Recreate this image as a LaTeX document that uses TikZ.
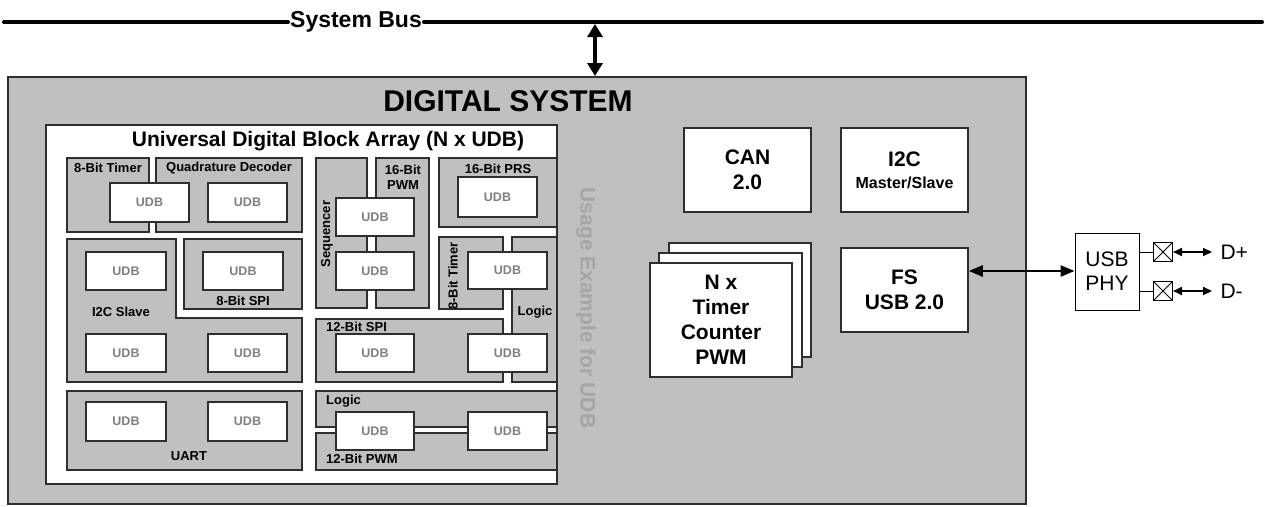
\documentclass[tikz,border=0pt]{standalone}
\usepackage{fontspec}
\setmainfont{Liberation Sans}
\usepackage{tikz}
\usetikzlibrary{arrows.meta, positioning}
\definecolor{sysgray}{HTML}{C0C0C0}
\definecolor{edge}{HTML}{2E2E2E}
\definecolor{udbtxt}{HTML}{7F7F7F}
\definecolor{usagetxt}{HTML}{A5A5A5}
\tikzset{
	outer/.style={rectangle, draw=edge, fill=sysgray, line width=2pt, inner sep=0pt},
	array/.style={rectangle, draw=edge, fill=white, line width=2pt, inner sep=0pt},
	gblk/.style={rectangle, draw=edge, fill=sysgray, line width=1.5pt, inner sep=0pt},
	udb/.style={rectangle, draw=edge, fill=white, line width=1.5pt, inner sep=0pt,
		font=\fontsize{12.5}{14}\selectfont\bfseries, text=udbtxt},
	pblk/.style={rectangle, draw=edge, fill=white, line width=1.5pt, inner sep=0pt,
		align=center, font=\fontsize{21}{25}\selectfont\bfseries},
	phybox/.style={rectangle, draw, fill=white, line width=1pt, inner sep=0pt,
		align=center, font=\fontsize{21}{24}\selectfont},
	pinbox/.style={rectangle, draw, fill=white, line width=1pt, inner sep=0pt,
		minimum size=19pt, path picture={
			\draw[line width=0.8pt] (path picture bounding box.north west) -- (path picture bounding box.south east)
			(path picture bounding box.south west) -- (path picture bounding box.north east);}},
	lbl/.style={font=\fontsize{13}{15}\selectfont\bfseries, inner sep=0pt},
	ttl/.style={font=\fontsize{30}{34}\selectfont\bfseries, inner sep=0pt},
	subttl/.style={font=\fontsize{21}{24}\selectfont\bfseries, inner sep=0pt},
	usage/.style={font=\fontsize{21}{24}\selectfont\bfseries, text=usagetxt, inner sep=0pt},
	buslbl/.style={font=\fontsize{23}{26}\selectfont\bfseries, inner sep=2pt},
	busline/.style={line width=4pt, line cap=round},
	busarr/.style={{Triangle[length=13pt, width=15pt]}-{Triangle[length=13pt, width=15pt]}, line width=4pt},
	usbarr/.style={{Triangle[length=14pt, width=11pt]}-{Triangle[length=14pt, width=11pt]}, line width=2.5pt},
	darr/.style={{Triangle[length=9pt, width=8pt]}-{Triangle[length=9pt, width=8pt]}, line width=2pt},
	wire/.style={line width=1pt},
}
% box from corner (#3,#4) to corner (#5,#6), in pixels
\newcommand{\boxat}[7]{\node[#1, minimum width={(#5-#3)*1pt}, minimum height={(#6-#4)*1pt}] (#2) at ({(#3+#5)/2},{(#4+#6)/2}) {#7};}

\begin{document}
\begin{tikzpicture}[x=1pt, y=-1pt]
	\useasboundingbox (0,0) rectangle (1265,506);
	
	% system bus
	\coordinate (busL) at (4,22);
	\coordinate (busR) at (1262,22);
	\node[buslbl] (bus) at (356,22) {System Bus};
	\draw[busline] (busL) -- (bus.west);
	\draw[busline] (bus.east) -- (busR);
	
	% digital system
	\boxat{outer}{dsys}{8}{77}{1026}{504}{}
	\node[ttl] (dsysttl) at (508,101) {DIGITAL SYSTEM};
	\coordinate (tap) at (595,24);
	\draw[busarr] (tap) -- (tap |- dsys.north);
	
	% UDB array
	\boxat{array}{uarr}{46}{125}{557}{484}{}
	\node[subttl] (uarrttl) at (328,141) {Universal Digital Block Array (N x UDB)};
	\node[usage, rotate=-90] (usage) at (586,308) {Usage Example for UDB};
	
	\boxat{gblk}{tmra}{67}{158}{149}{232}{}
	\boxat{gblk}{qdec}{156}{158}{302}{232}{}
	\node[lbl] (tmralbl) at (108,168) {8-Bit Timer};
	\node[lbl] (qdeclbl) at (229,168) {Quadrature Decoder};
	\boxat{udb}{udba}{110}{183}{189}{222}{UDB}
	\boxat{udb}{udbb}{208}{183}{287}{222}{UDB}
	
	\draw[gblk] (67,239) -- (176,239) -- (176,318) -- (302,318) -- (302,382) -- (67,382) -- cycle;
	\node[lbl] (i2cslbl) at (121,312) {I2C Slave};
	\boxat{udb}{udbc}{86}{252}{166}{290}{UDB}
	\boxat{udb}{udbd}{86}{334}{166}{372}{UDB}
	\boxat{udb}{udbe}{208}{334}{287}{372}{UDB}
	\boxat{gblk}{spia}{184}{239}{302}{309}{}
	\boxat{udb}{udbf}{203}{252}{283}{290}{UDB}
	\node[lbl] (spialbl) at (243,301) {8-Bit SPI};
	
	\boxat{gblk}{uart}{67}{391}{302}{470}{}
	\boxat{udb}{udbg}{86}{402}{166}{441}{UDB}
	\boxat{udb}{udbh}{208}{402}{287}{441}{UDB}
	\node[lbl] (uartlbl) at (189,456) {UART};
	
	\boxat{gblk}{seq}{316}{158}{367}{308}{}
	\boxat{gblk}{pwma}{376}{158}{429}{308}{}
	\node[lbl, rotate=90] (seqlbl) at (327,234) {Sequencer};
	\node[lbl, align=center] (pwmalbl) at (403,177) {16-Bit\\PWM};
	\boxat{udb}{udbi}{336}{198}{414}{236}{UDB}
	\boxat{udb}{udbj}{336}{252}{414}{290}{UDB}
	
	\boxat{gblk}{prs}{439}{158}{557}{227}{}
	\node[lbl] (prslbl) at (498,169) {16-Bit PRS};
	\boxat{udb}{udbk}{458}{177}{537}{217}{UDB}
	
	\boxat{gblk}{tmrb}{439}{237}{503}{309}{}
	\boxat{gblk}{loga}{512}{237}{557}{382}{}
	\node[lbl, rotate=90] (tmrblbl) at (453,276) {8-Bit Timer};
	\node[lbl] (logalbl) at (535,312) {Logic};
	\boxat{udb}{udbl}{468}{252}{547}{289}{UDB}
	
	\boxat{gblk}{spib}{316}{319}{503}{382}{}
	\node[lbl, anchor=west] (spiblbl) at (326,327) {12-Bit SPI};
	\boxat{udb}{udbm}{336}{334}{414}{372}{UDB}
	\boxat{udb}{udbn}{468}{334}{547}{372}{UDB}
	
	\boxat{gblk}{logb}{316}{391}{557}{427}{}
	\boxat{gblk}{pwmb}{316}{433}{557}{470}{}
	\node[lbl, anchor=west] (logblbl) at (326,401) {Logic};
	\node[lbl, anchor=west] (pwmblbl) at (326,459) {12-Bit PWM};
	\boxat{udb}{udbo}{336}{412}{414}{450}{UDB}
	\boxat{udb}{udbp}{468}{412}{547}{450}{UDB}
	
	% fixed function blocks
	\boxat{pblk}{can}{684}{128}{811}{212}{CAN\\2.0}
	\boxat{pblk}{i2cm}{841}{128}{968}{212}{I2C\\[-3pt]{\fontsize{16}{18}\selectfont Master/Slave}}
	\boxat{pblk}{tmrc}{669}{243}{811}{357}{}
	\boxat{pblk}{tmrd}{659}{253}{802}{367}{}
	\boxat{pblk}{tmre}{650}{263}{792}{377}{N x\\Timer\\Counter\\PWM}
	\boxat{pblk}{fsusb}{841}{248}{968}{332}{FS\\USB 2.0}
	
	% USB PHY and pins
	\boxat{phybox}{phy}{1075}{233}{1139}{310}{USB\\PHY}
	\draw[usbarr] (fsusb.east |- 0,271) -- (phy.west |- 0,271);
	\node[pinbox] (pinp) at (1163,252) {};
	\node[pinbox] (pinm) at (1163,291) {};
	\draw[wire] (phy.east |- pinp) -- (pinp);
	\draw[wire] (phy.east |- pinm) -- (pinm);
	\coordinate[right=39pt of pinp.east] (dp);
	\coordinate[right=39pt of pinm.east] (dm);
	\draw[darr] (pinp) -- (dp);
	\draw[darr] (pinm) -- (dm);
	\node[phybox, draw=none, fill=none, anchor=west, right=8pt of dp] (dplbl) {D+};
	\node[phybox, draw=none, fill=none, anchor=west, right=8pt of dm] (dmlbl) {D-};
\end{tikzpicture}
\end{document}
